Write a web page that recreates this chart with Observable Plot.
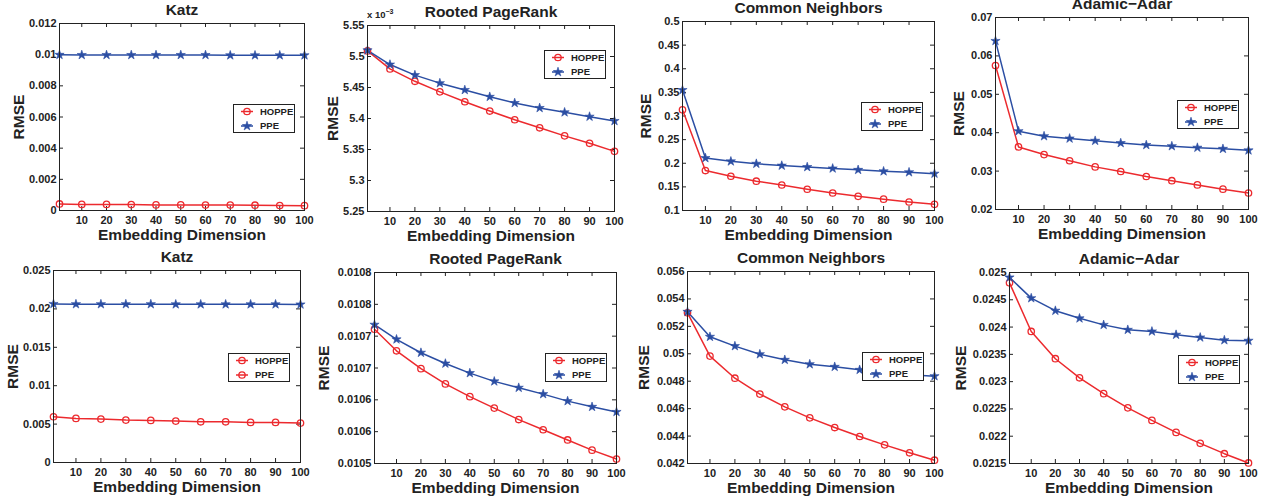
<!DOCTYPE html>
<html><head><meta charset="utf-8">
<script src="https://cdn.jsdelivr.net/npm/d3@7"></script>
<script src="https://cdn.jsdelivr.net/npm/@observablehq/plot@0.6"></script>
<style>
html,body{margin:0;padding:0;background:#fff;}
#root{position:relative;width:1271px;height:502px;overflow:hidden;background:#fff;font-family:"Liberation Sans",Arial,Helvetica,sans-serif;}
.abs{position:absolute;}
#root svg g[aria-label="x-axis tick label"] text,
#root svg g[aria-label="y-axis tick label"] text{font-size:11px;}
</style></head><body><div id="root"></div>
<script>
// ---------- data ----------
const dims = [1,10,20,30,40,50,60,70,80,90,100];
const xTicks = [10,20,30,40,50,60,70,80,90,100];
const xLabels = ["10","20","30","40","50","60","70","80","90","100"];
const seriesNames = ["HOPPE","PPE"];
const titles = ["Katz","Rooted PageRank","Common Neighbors","Adamic\u2212Adar"];

// top row
const katzHoppeA = [0.00042,0.00039,0.00039,0.00038,0.00036,0.00036,0.00035,0.00035,0.00034,0.00032,0.00031];
const katzPpeA   = [0.00999,0.00998,0.00998,0.00998,0.00998,0.00998,0.00998,0.00996,0.00996,0.00996,0.00996];
const rprHoppeA  = [5.509,5.480,5.460,5.443,5.427,5.412,5.398,5.385,5.372,5.360,5.347]; // x 10^-3
const rprPpeA    = [5.510,5.487,5.470,5.457,5.446,5.435,5.425,5.417,5.410,5.403,5.396]; // x 10^-3
const cnHoppeA   = [0.313,0.1845,0.1725,0.162,0.154,0.145,0.137,0.130,0.124,0.118,0.113];
const cnPpeA     = [0.355,0.211,0.204,0.199,0.195,0.192,0.189,0.186,0.183,0.181,0.178];
const aaHoppeA   = [0.0575,0.0363,0.0343,0.0327,0.0311,0.0299,0.0286,0.0275,0.0264,0.0253,0.0243];
const aaPpeA     = [0.0639,0.0404,0.0391,0.0385,0.0379,0.0373,0.0368,0.0365,0.0361,0.0358,0.0354];
// bottom row
const katzHoppeB = [0.00596,0.00574,0.00565,0.00552,0.00548,0.00539,0.0053,0.0053,0.00522,0.00522,0.00513];
const katzPpeB   = [0.02065,0.02062,0.02062,0.02062,0.02062,0.0206,0.0206,0.0206,0.0206,0.0206,0.02058];
const rprHoppeB  = [0.010711,0.010677,0.010649,0.010625,0.010605,0.010587,0.010569,0.010553,0.010537,0.010521,0.010507];
const rprPpeB    = [0.010718,0.010695,0.010674,0.010657,0.010642,0.010629,0.010619,0.010609,0.010598,0.010589,0.010581];
const cnHoppeB   = [0.05299,0.04983,0.04822,0.04706,0.04613,0.04533,0.04462,0.04397,0.04336,0.04278,0.04224];
const cnPpeB     = [0.05306,0.05124,0.05056,0.04997,0.04956,0.04924,0.04905,0.04883,0.04862,0.04848,0.04837];
const aaHoppeB   = [0.02481,0.02392,0.02342,0.02307,0.02278,0.02252,0.02229,0.02207,0.02187,0.02168,0.02151];
const aaPpeB     = [0.02491,0.02453,0.02430,0.02416,0.02404,0.02395,0.02392,0.02386,0.02381,0.02376,0.02375];

// y ticks and labels
const yTicks1 = [0,0.002,0.004,0.006,0.008,0.01,0.012];
const yLabels1 = ["0","0.002","0.004","0.006","0.008","0.01","0.012"];
const yTicks2 = [5.25,5.3,5.35,5.4,5.45,5.5,5.55];
const yLabels2 = ["5.25","5.3","5.35","5.4","5.45","5.5","5.55"];
const yTicks3 = [0.1,0.15,0.2,0.25,0.3,0.35,0.4,0.45,0.5];
const yLabels3 = ["0.1","0.15","0.2","0.25","0.3","0.35","0.4","0.45","0.5"];
const yTicks4 = [0.02,0.03,0.04,0.05,0.06,0.07];
const yLabels4 = ["0.02","0.03","0.04","0.05","0.06","0.07"];
const yTicks5 = [0,0.005,0.01,0.015,0.02,0.025];
const yLabels5 = ["0","0.005","0.01","0.015","0.02","0.025"];
const yTicks6 = [0.0105,0.01055,0.0106,0.01065,0.0107,0.01075,0.0108];
const yLabels6 = ["0.0105","0.0106","0.0106","0.0107","0.0107","0.0108","0.0108"];
const yTicks7 = [0.042,0.044,0.046,0.048,0.05,0.052,0.054,0.056];
const yLabels7 = ["0.042","0.044","0.046","0.048","0.05","0.052","0.054","0.056"];
const yTicks8 = [0.0215,0.022,0.0225,0.023,0.0235,0.024,0.0245,0.025];
const yLabels8 = ["0.0215","0.022","0.0225","0.023","0.0235","0.024","0.0245","0.025"];

// ---------- styling / layout ----------
const RED = "#ec2a2e", BLUE = "#2b4ea3", INK = "#222";
const FONT = '"Liberation Sans", Arial, Helvetica, sans-serif';
const M = {top: 30, left: 62, right: 12, bottom: 40};

const panels = [
  {title: titles[0], hoppe: katzHoppeA, ppe: katzPpeA, yDomain:[0,0.012], yTicks:yTicks1, yLabels:yLabels1, box:[59,23,304,210], rmse:40.5, legend:[233,104]},
  {title: titles[1], hoppe: rprHoppeA, ppe: rprPpeA, yDomain:[5.25,5.55], yTicks:yTicks2, yLabels:yLabels2, box:[367,25,614,211], rmse:34.5, legend:[544,50], exp:true},
  {title: titles[2], hoppe: cnHoppeA, ppe: cnPpeA, yDomain:[0.1,0.5], yTicks:yTicks3, yLabels:yLabels3, box:[682,21,934,210], rmse:36, legend:[861,102]},
  {title: titles[3], hoppe: aaHoppeA, ppe: aaPpeA, yDomain:[0.02,0.07], yTicks:yTicks4, yLabels:yLabels4, box:[995,17,1248,209], rmse:36, legend:[1177,100]},
  {title: titles[0], hoppe: katzHoppeB, ppe: katzPpeB, yDomain:[0,0.025], yTicks:yTicks5, yLabels:yLabels5, box:[53,270,300,462], rmse:40.5, legend:[228,353], legendBothRed:true},
  {title: titles[1], hoppe: rprHoppeB, ppe: rprPpeB, yDomain:[0.0105,0.0108], yTicks:yTicks6, yLabels:yLabels6, box:[374,272,616,463], rmse:50, legend:[545,353]},
  {title: titles[2], hoppe: cnHoppeB, ppe: cnPpeB, yDomain:[0.042,0.056], yTicks:yTicks7, yLabels:yLabels7, box:[687,271,934,463], rmse:43, legend:[862,352]},
  {title: titles[3], hoppe: aaHoppeB, ppe: aaPpeB, yDomain:[0.0215,0.025], yTicks:yTicks8, yLabels:yLabels8, box:[1009,272,1248,463], rmse:48, legend:[1178,355]}
];

const root = document.getElementById("root");

function drawPanel(cfg) {
  const w = cfg.box[2] - cfg.box[0], h = cfg.box[3] - cfg.box[1];
  const hoppe = dims.map((d, i) => ({x: d, y: cfg.hoppe[i]}));
  const ppe = dims.map((d, i) => ({x: d, y: cfg.ppe[i]}));
  const ylab = new Map(cfg.yTicks.map((v, i) => [v, cfg.yLabels[i]]));
  const xlab = new Map(xTicks.map((v, i) => [v, xLabels[i]]));
  const chart = Plot.plot({
    width: w + M.left + M.right,
    height: h + M.top + M.bottom,
    marginTop: M.top, marginLeft: M.left, marginRight: M.right, marginBottom: M.bottom,
    x: {domain: [1, 100], label: null},
    y: {domain: cfg.yDomain, label: null},
    style: {fontFamily: FONT, fontWeight: "bold", fontSize: "11px", color: INK, background: "transparent", overflow: "visible"},
    marks: [
      Plot.axisX(xTicks, {tickSize: 0, tickPadding: 6, fontSize: 11, label: null, tickFormat: d => xlab.get(d), fill: INK}),
      Plot.axisY(cfg.yTicks, {tickSize: 0, tickPadding: 3, fontSize: 11, label: null, tickFormat: d => ylab.get(d), fill: INK}),
      Plot.tickY(cfg.yTicks, {y: d => d, insetRight: w - 4, stroke: INK}),
      Plot.tickY(cfg.yTicks, {y: d => d, insetLeft: w - 4, stroke: INK}),
      Plot.tickX(xTicks, {x: d => d, insetBottom: h - 4, stroke: INK}),
      Plot.tickX(xTicks, {x: d => d, insetTop: h - 4, stroke: INK}),
      Plot.line(hoppe, {x: "x", y: "y", stroke: RED, strokeWidth: 1.5}),
      Plot.line(ppe, {x: "x", y: "y", stroke: BLUE, strokeWidth: 1.5}),
      Plot.dot(hoppe, {x: "x", y: "y", r: 3.2, stroke: RED, strokeWidth: 1.3, fill: "none"}),
      Plot.dot(ppe, {x: "x", y: "y", symbol: "star", r: 2.9, fill: BLUE, stroke: BLUE, strokeWidth: 0.6}),
      Plot.frame({stroke: INK, strokeWidth: 1}),
      Plot.text([cfg.title], {frameAnchor: "top", dy: -13.5, text: d => d, fontSize: 15.5, textAnchor: "middle", lineAnchor: "middle", fill: INK}),
      Plot.text(["RMSE"], {frameAnchor: "left", dx: -cfg.rmse, rotate: -90, text: d => d, fontSize: 15.5, textAnchor: "middle", lineAnchor: "middle", fill: INK}),
      Plot.text(["Embedding Dimension"], {frameAnchor: "bottom", dy: 24.5, text: d => d, fontSize: 15.5, textAnchor: "middle", lineAnchor: "middle", fill: INK})
    ]
  });
  chart.classList.add("abs");
  chart.style.left = (cfg.box[0] - M.left) + "px";
  chart.style.top = (cfg.box[1] - M.top) + "px";
  root.appendChild(chart);

  if (cfg.exp) {
    const d = document.createElement("div");
    d.className = "abs";
    d.style.cssText = `left:${cfg.box[0]}px;top:${cfg.box[1]-16}px;font:bold 9.5px ${FONT};color:${INK};white-space:nowrap;line-height:12px;`;
    d.innerHTML = 'x 10<span style="font-size:7px;position:relative;top:-4px;">\u22123</span>';
    root.appendChild(d);
  }
  drawLegend(cfg);
}

function drawLegend(cfg) {
  const [lx, ly] = cfg.legend;
  const W = 62, H = 29;
  const svg = d3.select(root).append("svg").attr("class", "abs")
    .style("left", lx + "px").style("top", ly + "px")
    .attr("width", W).attr("height", H);
  svg.append("rect").attr("x", 0.5).attr("y", 0.5).attr("width", W - 1).attr("height", H - 1)
    .attr("fill", "#fff").attr("stroke", INK).attr("stroke-width", 1);
  const entries = seriesNames.map((name, i) => {
    const isStar = i === 1 && !cfg.legendBothRed;
    return {name, color: isStar ? BLUE : RED, star: isStar};
  });
  entries.forEach((e, i) => {
    const cy = 7.5 + i * 14.5;
    const g = svg.append("g");
    g.append("line").attr("x1", 8).attr("x2", 20).attr("y1", cy).attr("y2", cy)
      .attr("stroke", e.color).attr("stroke-width", 1.5);
    if (e.star) {
      g.append("path").attr("transform", `translate(14,${cy})`)
        .attr("d", d3.symbol(d3.symbolStar, Math.PI * 2.9 * 2.9)())
        .attr("fill", BLUE).attr("stroke", BLUE).attr("stroke-width", 0.6);
    } else {
      g.append("circle").attr("cx", 14).attr("cy", cy).attr("r", 3.2)
        .attr("fill", "none").attr("stroke", RED).attr("stroke-width", 1.3);
    }
    g.append("text").attr("x", 27).attr("y", cy).attr("dy", "0.35em")
      .style("font", `bold 9.5px ${FONT}`).attr("fill", INK).text(e.name);
  });
}

panels.forEach(drawPanel);
</script></body></html>
